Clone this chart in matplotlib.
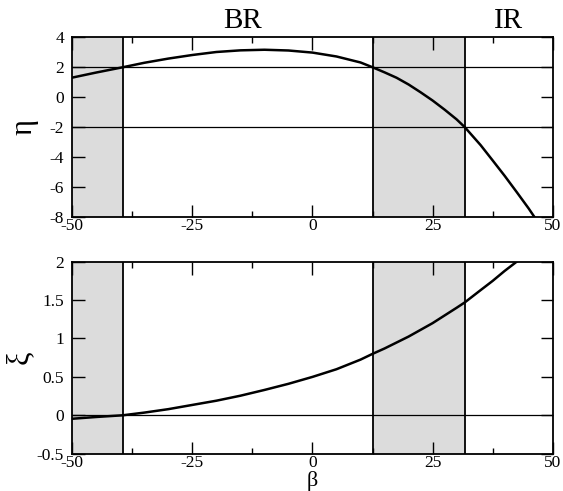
import matplotlib
matplotlib.use("Agg")
import matplotlib.pyplot as plt
from matplotlib.ticker import MultipleLocator

plt.rcParams['font.family'] = ['Liberation Serif', 'DejaVu Serif']

# values
beta_eta = [-50, -45, -39.5, -35, -30, -25, -20, -15, -10, -5, 0, 5, 10, 12.5,
            15, 17.5, 20, 22.5, 25, 27.5, 30, 31.7, 35, 37.5, 40, 42.5, 45, 46.2]
eta = [1.31, 1.65, 2.0, 2.3, 2.58, 2.82, 3.02, 3.13, 3.17, 3.12, 2.98, 2.72, 2.32, 2.0,
       1.66, 1.3, 0.85, 0.33, -0.22, -0.83, -1.48, -2.0, -3.2, -4.22, -5.25, -6.33, -7.43, -8.0]

beta_xi = [-50, -45, -39.5, -35, -30, -25, -20, -15, -10, -5, 0, 5, 10, 12.5,
           15, 20, 25, 30, 31.7, 35, 37.5, 40, 42.5]
xi = [-0.045, -0.022, 0.0, 0.035, 0.08, 0.135, 0.19, 0.255, 0.33, 0.41, 0.5, 0.6,
      0.725, 0.8, 0.87, 1.025, 1.2, 1.4, 1.47, 1.63, 1.75, 1.88, 2.0]

bands = [(-50, -39.5), (12.5, 31.7)]
vlines = [-39.5, 12.5, 31.7]
eta_hlines = [2, -2]
xi_hlines = [0]

fig = plt.figure(figsize=(5.63, 4.91), dpi=100)
ax1 = fig.add_axes([0.1284, 0.558, 0.8533, 0.366])
ax2 = fig.add_axes([0.1284, 0.076, 0.8533, 0.391])


def style(ax, ylim, ystep):
    for a, b in bands:
        ax.axvspan(a, b, color='#dcdcdc', lw=0, zorder=0)
    for v in vlines:
        ax.axvline(v, color='black', lw=1.3, zorder=2)
    ax.set_xlim(-50, 50)
    ax.set_ylim(*ylim)
    ax.xaxis.set_major_locator(MultipleLocator(25))
    ax.xaxis.set_minor_locator(MultipleLocator(12.5))
    ax.yaxis.set_major_locator(MultipleLocator(ystep))
    ax.tick_params(which='both', direction='in', top=True, right=True,
                   labelsize=12.5, width=1.0)
    ax.tick_params(axis='x', pad=1)
    ax.tick_params(axis='y', pad=6)
    ax.tick_params(which='major', length=9)
    ax.tick_params(which='minor', length=4)
    for s in ax.spines.values():
        s.set_linewidth(1.3)
    ax.xaxis.set_major_formatter(plt.FuncFormatter(lambda v, p: '%g' % v))
    ax.yaxis.set_major_formatter(plt.FuncFormatter(lambda v, p: '%g' % v))


style(ax1, (-8, 4), 2)
for h in eta_hlines:
    ax1.axhline(h, color='black', lw=0.9, zorder=2)
ax1.plot(beta_eta, eta, color='black', lw=1.8, zorder=3)
ax1.set_ylabel('η', fontsize=22, labelpad=8)

style(ax2, (-0.5, 2), 0.5)
for h in xi_hlines:
    ax2.axhline(h, color='black', lw=0.9, zorder=2)
ax2.plot(beta_xi, xi, color='black', lw=1.8, zorder=3)
ax2.set_ylabel('ξ', fontsize=22, labelpad=2)
fig.text(0.555, 0.0, 'β', ha='center', va='bottom', fontsize=16)

ax1.text(-14.5, 4.62, 'BR', fontsize=21, ha='center', va='baseline')
ax1.text(40.7, 4.62, 'IR', fontsize=21, ha='center', va='baseline')

fig.savefig('out.png', dpi=100)
